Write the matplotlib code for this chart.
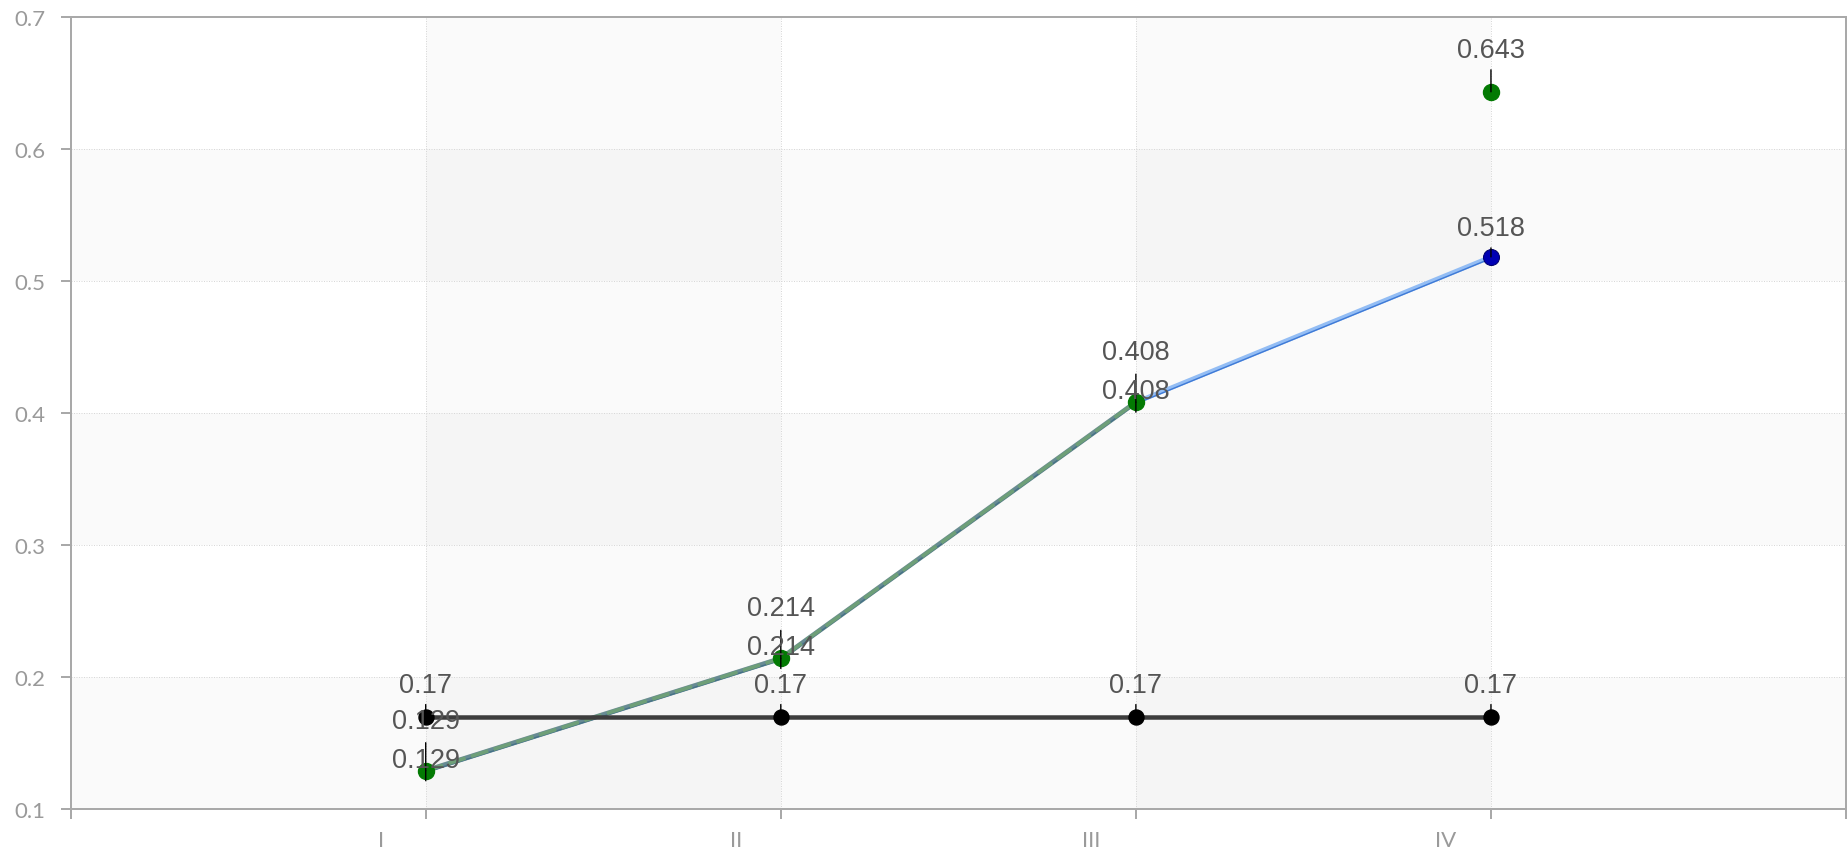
"""Line chart of four stages with a flat reference line."""

import matplotlib

matplotlib.use("Agg")

import numpy as np
import matplotlib.pyplot as plt
from matplotlib.transforms import ScaledTranslation, offset_copy

categories = ["I", "II", "III", "IV"]
baseline_vals = [0.17, 0.17, 0.17, 0.17]
blue_vals = [0.129, 0.214, 0.408, 0.518]
green_vals = [0.129, 0.214, 0.408, 0.643]
y_ticks = [0.1, 0.2, 0.3, 0.4, 0.5, 0.6, 0.7]

DPI = 100
PX = 72.0 / DPI  # points per pixel

fig = plt.figure(figsize=(18.49, 8.54), dpi=DPI)
ax = fig.add_axes([0.0382, 0.0515, 0.9602, 0.928])
ax.set_xlim(0, 5)
ax.set_ylim(0.1, 0.7)

# alternating bands
for lo in (0.1, 0.3, 0.5):
    ax.axhspan(lo, lo + 0.1, color="black", alpha=0.02, lw=0, zorder=0)
for lo in (1, 3):
    ax.axvspan(lo, lo + 1, color="black", alpha=0.02, lw=0, zorder=0)

ax.grid(True, color="#d8d8d8", linestyle=(0, (1, 1.5)), linewidth=1 * PX, zorder=1)
ax.set_axisbelow(True)

xs = np.arange(1, len(categories) + 1)

# blue series: light band with a darker lower edge
ax.plot(xs, blue_vals, color="#93bdf4", lw=4.5 * PX, solid_capstyle="round", zorder=3)
edge = offset_copy(ax.transData, fig=fig, x=0, y=-1.6, units="dots")
ax.plot(xs, blue_vals, color="#3f7ad6", lw=1.4 * PX, transform=edge, zorder=3)

# green series, dashed over the first three stages
ax.plot(xs[:3], green_vals[:3], color="#4a6b52", lw=5 * PX, zorder=4, alpha=0.6)
ax.plot(xs[:3], green_vals[:3], color="#6e9f78", lw=3.6 * PX,
        dashes=(5, 1.6), zorder=4)

# flat reference line
ax.plot(xs, baseline_vals, color="#3d3d3d", lw=4.5 * PX, zorder=5)
ax.plot(xs, baseline_vals, "o", color="black", ms=15 * PX, zorder=6)

ax.plot(xs[3], blue_vals[3], "o", color="#0000b4", mec="#00006a", mew=1 * PX,
        ms=16 * PX, zorder=6)
ax.plot(xs, green_vals, "o", color="#037a03", ms=16 * PX, zorder=6)


def leader(x, y, up, down):
    ax.annotate("", xy=(x, y), xytext=(0, up), textcoords="offset pixels",
                arrowprops=dict(arrowstyle="-", color="black", lw=1.4 * PX,
                                shrinkA=0, shrinkB=0), zorder=7)
    if down:
        ax.annotate("", xy=(x, y), xytext=(0, -down), textcoords="offset pixels",
                    arrowprops=dict(arrowstyle="-", color="black", lw=1.4 * PX,
                                    shrinkA=0, shrinkB=0), zorder=7)


def label(x, y, rise):
    ax.annotate(f"{y:g}", xy=(x, y), xytext=(0, rise), textcoords="offset pixels",
                ha="center", va="center", fontsize=19.5, color="#555555",
                family="Liberation Sans", zorder=8)


for i, x in enumerate(xs):
    leader(x, baseline_vals[i], 12, 6)
    label(x, baseline_vals[i], 32)
    if i < 3:
        leader(x, green_vals[i], 28, 10)
        label(x, green_vals[i], 50)
        label(x, blue_vals[i], 11)
    else:
        leader(x, green_vals[i], 22, 0)
        label(x, green_vals[i], 42)
        leader(x, blue_vals[i], 9, 0)
        label(x, blue_vals[i], 29)

# axes styling
for side in ("left", "right", "top", "bottom"):
    ax.spines[side].set_color("#a9a9a9")
    ax.spines[side].set_linewidth(2 * PX)

ax.set_yticks(y_ticks)
ax.set_yticklabels([f"{v:g}" for v in y_ticks])
ax.set_xticks(range(0, len(categories) + 2))
ax.set_xticklabels([""] + categories + [""])
ax.tick_params(axis="both", direction="out", length=10 * PX, width=2 * PX,
               color="#a9a9a9", labelcolor="#9a9a9a", labelsize=16)
ax.tick_params(axis="y", pad=11)
ax.tick_params(axis="x", pad=8)
for t in ax.get_xticklabels() + ax.get_yticklabels():
    t.set_family("Lato")
shift = ScaledTranslation(-45 / DPI, 0, fig.dpi_scale_trans)
for t in ax.get_xticklabels():
    t.set_transform(t.get_transform() + shift)

fig.savefig("out.png", dpi=DPI, facecolor="white")
